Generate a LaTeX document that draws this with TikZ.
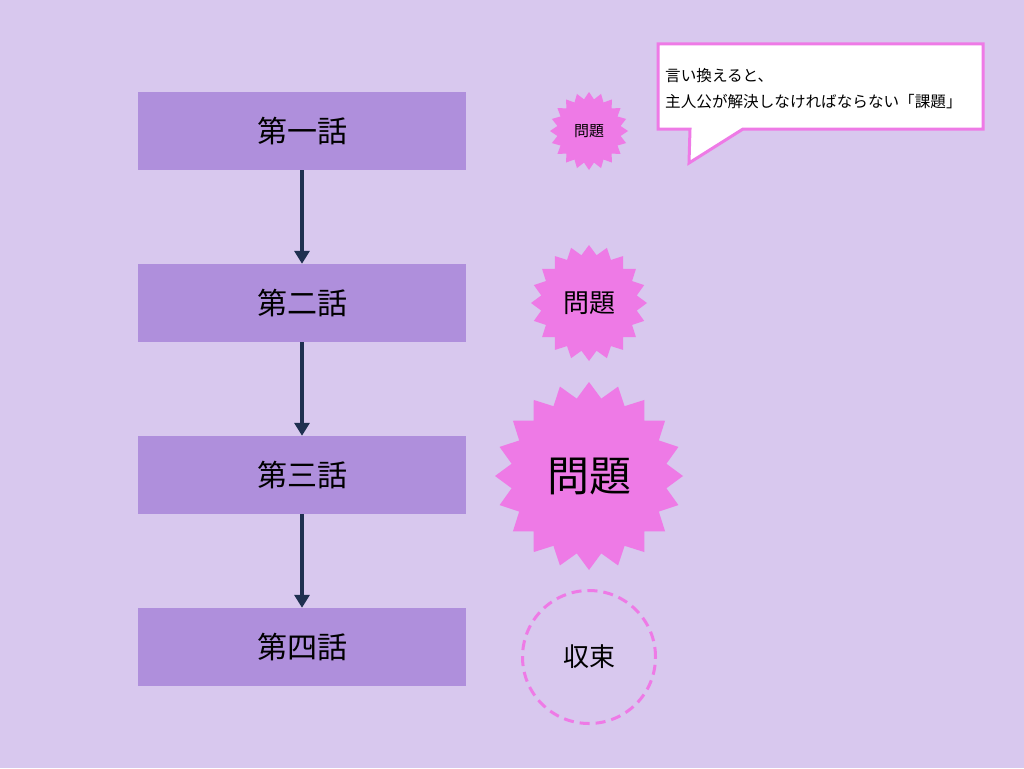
\documentclass[tikz,border=0pt]{standalone}
\usepackage{fontspec}
\setmainfont{Noto Sans CJK JP}
\usetikzlibrary{shapes.geometric,arrows.meta}
\definecolor{bg}{HTML}{D8C8EE}
\definecolor{boxc}{HTML}{AF8FDC}
\definecolor{burst}{HTML}{EE7AE6}
\definecolor{navy}{HTML}{1F3050}
\definecolor{pinkline}{HTML}{EE7AE6}
\tikzset{
  epbox/.style={fill=boxc, draw=none, minimum width=328pt, minimum height=78pt, inner sep=0pt, font=\fontsize{30}{34}\selectfont},
  flow/.style={draw=navy, line width=3.2pt, -{Triangle[length=13pt,width=15pt]}},
  burstshape/.style={star, star points=20, fill=burst, draw=none, inner sep=0pt},
}
\begin{document}
\begin{tikzpicture}[x=1pt,y=-1pt]
\fill[bg] (0,0) rectangle (1024,768);
\useasboundingbox (0,0) rectangle (1024,768);

\node[epbox] (e1) at (302,131) {第一話};
\node[epbox] (e2) at (302,303) {第二話};
\node[epbox] (e3) at (302,475) {第三話};
\node[epbox] (e4) at (302,647) {第四話};

\draw[flow] (e1.south) -- (e2.north);
\draw[flow] (e2.south) -- (e3.north);
\draw[flow] (e3.south) -- (e4.north);

\node[burstshape, minimum size=78pt, star point ratio=1.22] (b1) at (589,131) {};
\node[font=\fontsize{15}{18}\selectfont] (t1) at (b1.center) {問題};
\node[burstshape, minimum size=116pt, star point ratio=1.2] (b2) at (589,303) {};
\node[font=\fontsize{26}{30}\selectfont] (t2) at (b2.center) {問題};
\node[burstshape, minimum size=188pt, star point ratio=1.2] (b3) at (589,476) {};
\node[font=\fontsize{42}{46}\selectfont] (t3) at (b3.center) {問題};

\node[circle, draw=pinkline, line width=3pt, dash pattern=on 10pt off 6pt, minimum size=133pt, inner sep=0pt, font=\fontsize{26}{30}\selectfont] (c4) at (589,657) {収束};

\coordinate (cTL) at (658,44);
\coordinate (cBR) at (983,129);
\coordinate (tipA) at (690,129);
\coordinate (tipP) at (689,163);
\coordinate (tipB) at (743,129);
\draw[fill=white, draw=pinkline, line width=3pt, line join=miter]
  (cTL) -- (cTL -| cBR) -- (cBR) -- (tipB) -- (tipP) -- (tipA) -- (cTL |- cBR) -- cycle;
\node[anchor=north west, align=left, inner sep=0pt, font=\fontsize{15.6}{26}\selectfont] (callout) at (665,68) {言い換えると、\\主人公が解決しなければならない「課題」};
\end{tikzpicture}
\end{document}
